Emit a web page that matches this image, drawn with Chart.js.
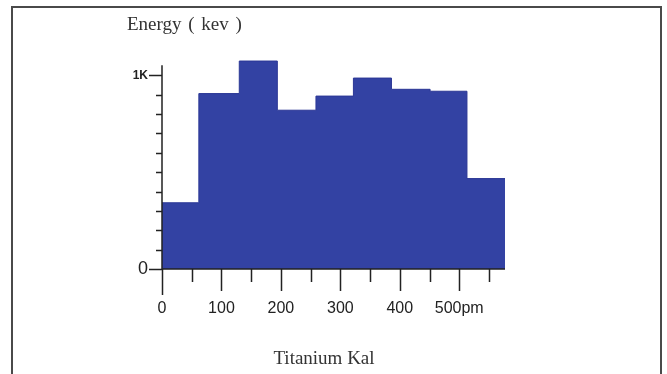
<!DOCTYPE html>
<html>
<head>
<meta charset="utf-8">
<script src="https://cdn.jsdelivr.net/npm/chart.js@4.4.1/dist/chart.umd.min.js"></script>
<style>
  html, body { margin: 0; padding: 0; background: #fff; overflow: hidden; }
  #wrap { position: relative; width: 667px; height: 374px; }
  #frame {
    position: absolute; left: 11px; top: 6px; width: 651px; height: 420px;
    box-sizing: border-box; border: 2px solid #4a4a4a;
  }
  .lbl {
    position: absolute; font-family: 'Liberation Serif', 'DejaVu Serif', serif;
    font-size: 19px; color: #333; white-space: nowrap; line-height: 1;
  }
  #ytitle { left: 127px; top: 14px; word-spacing: 2px; }
  #xtitle { left: 324px; top: 348px; transform: translateX(-50%); }
  canvas { position: absolute; left: 0; top: 0; }
</style>
</head>
<body>
<div id="wrap">
  <div id="frame"></div>
  <canvas id="histChart" width="667" height="374"></canvas>
  <div class="lbl" id="ytitle">Energy ( kev )</div>
  <div class="lbl" id="xtitle">Titanium Kal</div>
</div>
<script>
// bin edges along the x axis (pm) and the height of each bin
const binEdges = [0, 62, 130, 194, 259, 322, 386, 451, 513, 577];
const counts = [342, 906, 1074, 820, 893, 986, 928, 918, 467];

// tick positions on both axes
const xTickValues = [0, 50, 100, 150, 200, 250, 300, 350, 400, 450, 500, 550];
const yTickValues = [0, 100, 200, 300, 400, 500, 600, 700, 800, 900, 1000];

const xMax = 577;
const yMax = 1100;
const yAxisTop = 1052;   // the drawn y axis line stops a bit below the top

// stepped line: each edge carries the value of the bin to its right,
// the last edge repeats the final bin
const points = binEdges.map((x, i) => ({ x: x, y: counts[Math.min(i, counts.length - 1)] }));

const axisMarks = {
    id: 'axisMarks',
    afterDatasetsDraw(chart) {
        const { ctx, chartArea: a, scales: { x, y } } = chart;
        ctx.save();
        ctx.strokeStyle = '#222';
        ctx.lineWidth = 1.5;
        ctx.beginPath();
        ctx.moveTo(a.left, y.getPixelForValue(yAxisTop));
        ctx.lineTo(a.left, a.bottom);
        ctx.lineTo(a.right, a.bottom);

        x.ticks.forEach(t => {
            const px = Math.round(x.getPixelForValue(t.value)) + 0.5;
            const len = t.value === 0 ? 26 : (t.value % 100 === 0 ? 22 : 13);
            ctx.moveTo(px, a.bottom);
            ctx.lineTo(px, a.bottom + len);
        });

        y.ticks.forEach(t => {
            const py = Math.round(y.getPixelForValue(t.value)) + 0.5;
            const len = t.value % 1000 === 0 ? 13 : 6;
            ctx.moveTo(a.left, py);
            ctx.lineTo(a.left - len, py);
        });
        ctx.stroke();
        ctx.restore();
    }
};

new Chart(document.getElementById('histChart').getContext('2d'), {
    type: 'line',
    data: {
        datasets: [{
            data: points,
            stepped: true,
            fill: 'origin',
            backgroundColor: '#3342a3',
            borderColor: '#2c3896',
            borderWidth: 1,
            pointRadius: 0,
            tension: 0
        }]
    },
    options: {
        responsive: false,
        animation: false,
        events: [],
        layout: {
            padding: { left: 122, right: 162, top: 56, bottom: 45 }
        },
        plugins: {
            legend: { display: false },
            tooltip: { enabled: false }
        },
        scales: {
            x: {
                type: 'linear',
                min: 0,
                max: xMax,
                grid: { display: false, drawTicks: false },
                border: { display: false },
                afterFit: s => { s.height = 60; },
                afterBuildTicks: s => { s.ticks = xTickValues.map(v => ({ value: v })); },
                ticks: {
                    autoSkip: false,
                    maxRotation: 0,
                    padding: 30,
                    color: '#222',
                    font: { family: "'Liberation Sans', Arial, sans-serif", size: 16 },
                    callback: v => v % 100 === 0 ? (v === 500 ? '500pm' : String(v)) : ''
                }
            },
            y: {
                min: 0,
                max: yMax,
                grid: { display: false, drawTicks: false },
                border: { display: false },
                afterFit: s => { s.width = 40; },
                afterBuildTicks: s => { s.ticks = yTickValues.map(v => ({ value: v })); },
                ticks: {
                    autoSkip: false,
                    padding: 14,
                    color: '#222',
                    font: ctx => (ctx.tick && ctx.tick.value === 1000)
                        ? { family: "'Liberation Sans', Arial, sans-serif", size: 12, weight: 'bold' }
                        : { family: "'Liberation Sans', Arial, sans-serif", size: 18 },
                    callback: v => v === 1000 ? '1K' : (v === 0 ? '0' : '')
                }
            }
        }
    },
    plugins: [axisMarks]
});
</script>
</body>
</html>
